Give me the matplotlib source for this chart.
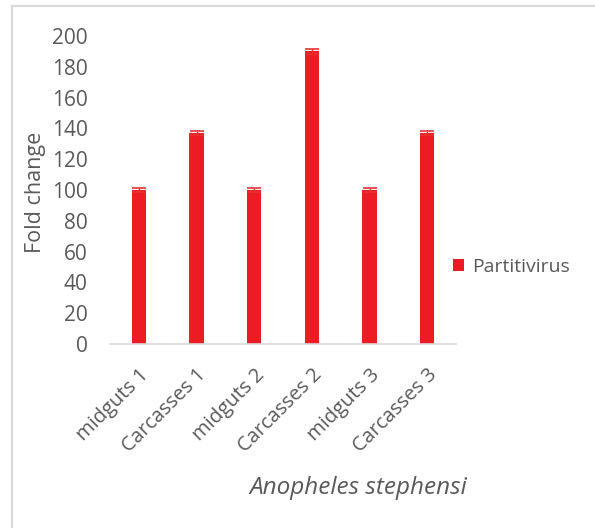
import matplotlib
matplotlib.use("Agg")
import matplotlib.pyplot as plt
from matplotlib.lines import Line2D
import numpy as np

categories = ["midguts 1", "Carcasses 1", "midguts 2", "Carcasses 2", "midguts 3", "Carcasses 3"]
values = [100, 137, 100, 190, 100, 137]
errors = [1.5, 1.5, 1.5, 1.5, 1.5, 1.5]
series_name = "Partitivirus"
yticks = [0, 20, 40, 60, 80, 100, 120, 140, 160, 180, 200]

plt.rcParams['font.family'] = ['Open Sans', 'DejaVu Sans']
grey = "#595959"
red = "#ED1C24"

fig = plt.figure(figsize=(5.95, 5.28), dpi=100)
ax = fig.add_axes([110/595, 1-344/528, (456-110)/595, (344-36)/528])

x = np.arange(len(categories))
bars = ax.bar(x, values, width=0.25, color=red, label=series_name, zorder=2)
ax.errorbar(x, values, yerr=errors, fmt='none', ecolor="#E8302F", elinewidth=1, capsize=5, capthick=1.2, zorder=3)

ax.set_xlim(-0.5, len(categories) - 0.5)
ax.set_ylim(0, 200)
ax.set_yticks(yticks)
ax.set_yticklabels([str(t) for t in yticks], fontsize=15, color=grey)
ax.set_xticks(x)
ax.set_xticklabels(categories, rotation=45, ha='right', rotation_mode='anchor', fontsize=14.5, color=grey)
ax.tick_params(axis='y', length=0, pad=16)
ax.tick_params(axis='x', length=0, pad=15)
for s in ['top', 'right', 'left']:
    ax.spines[s].set_visible(False)
ax.spines['bottom'].set_color("#D9D9D9")
ax.spines['bottom'].set_linewidth(1.2)

fig.text(35/595, 1-192/528, "Fold change", fontsize=15.5, color=grey, rotation=90, ha='center', va='center')

fig.text(358/595, 1-488/528, "Anopheles stephensi", fontsize=17.5, style='italic', color=grey, ha='center', va='center')

leg = fig.legend(handles=[bars], labels=[series_name], loc='center left', bbox_to_anchor=(436/595, 1-267/528),
                 frameon=False, fontsize=14, handlelength=0.55, handleheight=0.55, handletextpad=0.4)
for t in leg.get_texts():
    t.set_color(grey)

# chart border
fig.add_artist(Line2D([12/595, 12/595], [0, 1-6/528], transform=fig.transFigure, color="#D9D9D9", lw=1.5))
fig.add_artist(Line2D([12/595, 1], [1-6/528, 1-6/528], transform=fig.transFigure, color="#D9D9D9", lw=1.5))

fig.savefig("out.png", dpi=100)
